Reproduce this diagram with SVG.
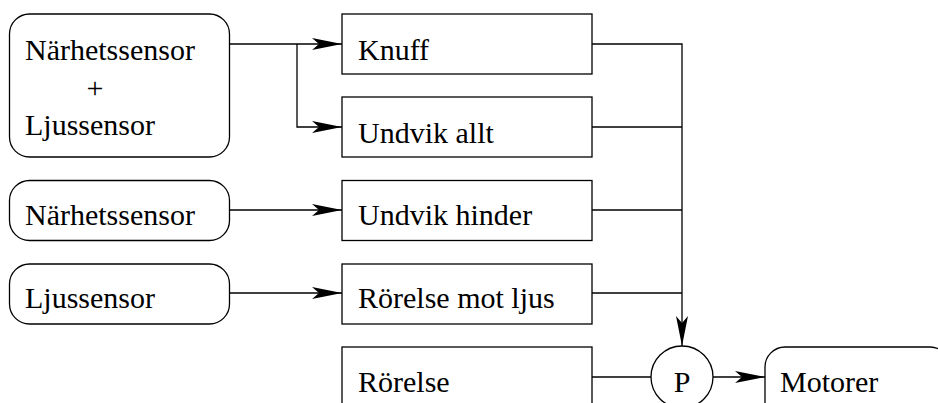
<svg xmlns="http://www.w3.org/2000/svg" width="938" height="403" viewBox="0 0 938 403">
<style>
.box{fill:#fff;stroke:#000;stroke-width:1.3}
.ln{fill:none;stroke:#000;stroke-width:1.3}
.t{font-family:"Liberation Serif","Times New Roman",serif;font-size:30px;fill:#000}
</style>
<defs>
<marker id="ah" viewBox="0 0 30 12" refX="30" refY="6" markerWidth="30" markerHeight="12" orient="auto" markerUnits="userSpaceOnUse">
<path d="M0,0 L30,6 L0,12 L7,6 Z" fill="#000"/>
</marker>
</defs>
<rect width="938" height="403" fill="#fff"/>
<g id="connectors">
<path class="ln" d="M229.5,44 H342" marker-end="url(#ah)"/>
<path class="ln" d="M297,44 V127 H342" marker-end="url(#ah)"/>
<path class="ln" d="M229.5,210 H342" marker-end="url(#ah)"/>
<path class="ln" d="M229.5,293 H342" marker-end="url(#ah)"/>
<path class="ln" d="M592,44 H682 V346" marker-end="url(#ah)"/>
<path class="ln" d="M592,127 H682"/>
<path class="ln" d="M592,210 H682"/>
<path class="ln" d="M592,293 H682"/>
<path class="ln" d="M592,377 H651"/>
<path class="ln" d="M713,377 H765" marker-end="url(#ah)"/>
</g>
<g id="sensor-both">
<rect class="box" x="9.5" y="14" width="220" height="143" rx="20"/>
<text class="t" x="25" y="60">Närhetssensor</text>
<text class="t" x="95" y="98" text-anchor="middle">+</text>
<text class="t" x="25" y="135">Ljussensor</text>
</g>
<g id="sensor-proximity">
<rect class="box" x="9.5" y="180.5" width="220" height="60" rx="20"/>
<text class="t" x="25" y="225">Närhetssensor</text>
</g>
<g id="sensor-light">
<rect class="box" x="9.5" y="264" width="220" height="60" rx="20"/>
<text class="t" x="25" y="308">Ljussensor</text>
</g>
<g id="knuff">
<rect class="box" x="342" y="14" width="250" height="60"/>
<text class="t" x="358" y="60">Knuff</text>
</g>
<g id="undvik-allt">
<rect class="box" x="342" y="97" width="250" height="60"/>
<text class="t" x="358" y="143">Undvik allt</text>
</g>
<g id="undvik-hinder">
<rect class="box" x="342" y="180.5" width="250" height="60"/>
<text class="t" x="358" y="225">Undvik hinder</text>
</g>
<g id="rorelse-mot-ljus">
<rect class="box" x="342" y="264" width="250" height="60"/>
<text class="t" x="358" y="308">Rörelse mot ljus</text>
</g>
<g id="rorelse">
<rect class="box" x="342" y="347" width="250" height="80"/>
<text class="t" x="358" y="392">Rörelse</text>
</g>
<g id="p">
<circle class="box" cx="682" cy="377" r="31"/>
<text class="t" x="682" y="392" text-anchor="middle">P</text>
</g>
<g id="motorer">
<rect class="box" x="765" y="347" width="185" height="80" rx="20"/>
<text class="t" x="780" y="392">Motorer</text>
</g>
</svg>
